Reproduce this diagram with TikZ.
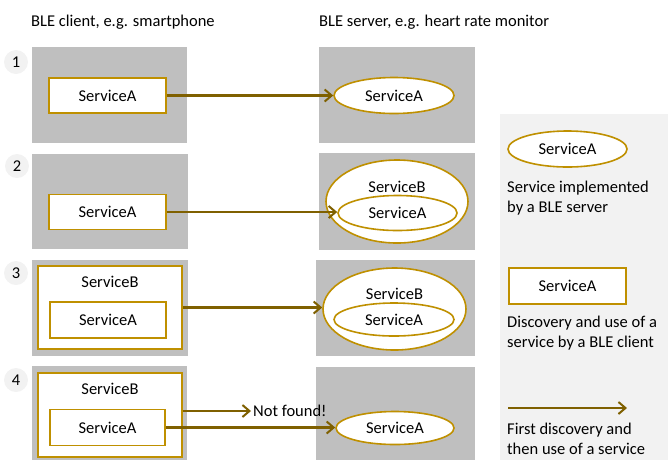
\documentclass[tikz,border=0pt]{standalone}
\usepackage{fontspec}
\setmainfont{Carlito}
\usetikzlibrary{shapes.geometric,arrows.meta}
\definecolor{boxgray}{HTML}{BFBFBF}
\definecolor{panelgray}{HTML}{F2F2F2}
\definecolor{gold}{HTML}{BF9000}
\definecolor{arrowbrown}{HTML}{7F6000}
\tikzset{
  every node/.style={font=\fontsize{16.5}{20}\selectfont},
  graybox/.style={fill=boxgray, draw=none, inner sep=0pt, rectangle},
  clientsvc/.style={draw=gold, line width=1.6pt, fill=white, rectangle, inner sep=0pt},
  serversvc/.style={draw=gold, line width=1.6pt, fill=white, ellipse, inner sep=0pt},
  numcirc/.style={circle, fill=panelgray, minimum size=24pt, inner sep=0pt},
  flow/.style={draw=arrowbrown, line width=2.4pt, -{Straight Barb[length=7pt,width=12pt,line width=2pt]}},
  plain/.style={inner sep=0pt},
}
\begin{document}
\begin{tikzpicture}[x=1pt,y=-1pt]
\useasboundingbox (0,0) rectangle (668,459);
% legend panel
\node[fill=panelgray, inner sep=0pt, minimum width=170pt, minimum height=350pt, anchor=north west] (panel) at (500,114) {};
% titles
\node[plain, anchor=west] (tclient) at (31,22) {BLE client, e.g. smartphone};
\node[plain, anchor=west] (tserver) at (319,22) {BLE server, e.g. heart rate monitor};
% numbers
\node[numcirc] (n1) at (16,62) {1};
\node[numcirc] (n2) at (17,166) {2};
\node[numcirc] (n3) at (16,273) {3};
\node[numcirc] (n4) at (16,380) {4};
% row 1
\node[graybox, minimum width=155pt, minimum height=96pt] (L1) at (109.5,95) {};
\node[graybox, minimum width=156pt, minimum height=96pt] (R1) at (397,95) {};
\node[clientsvc, minimum width=117pt, minimum height=35pt] (A1) at (107.5,95.5) {ServiceA};
\node[serversvc, minimum width=120pt, minimum height=36pt] (E1) at (394,95.5) {ServiceA};
\draw[flow] (A1.east) -- (A1.east -| E1.west);
% row 2
\node[graybox, minimum width=156pt, minimum height=95pt] (L2) at (110,201.5) {};
\node[graybox, minimum width=156pt, minimum height=97pt] (R2) at (397,201.5) {};
\node[clientsvc, minimum width=117pt, minimum height=35pt] (A2) at (107.5,212) {ServiceA};
\node[serversvc, minimum width=142pt, minimum height=83pt] (E2B) at (397,201.5) {};
\node[plain] (E2Bt) at (397,187) {ServiceB};
\node[serversvc, minimum width=119pt, minimum height=35pt] (E2A) at (397.5,213) {ServiceA};
\draw[flow] (A2.east) -- (A2.east -| E2A.west);
% row 3
\node[graybox, minimum width=156pt, minimum height=96pt] (L3) at (110,308) {};
\node[graybox, minimum width=159pt, minimum height=96pt] (R3) at (395.5,308) {};
\node[clientsvc, minimum width=144pt, minimum height=83pt] (B3) at (110,307.5) {};
\node[plain] (B3t) at (110,282) {ServiceB};
\node[clientsvc, minimum width=116pt, minimum height=36pt] (A3) at (108,320) {ServiceA};
\node[serversvc, minimum width=143pt, minimum height=82pt] (E3B) at (394.5,309) {};
\node[plain] (E3Bt) at (394.5,294) {ServiceB};
\node[serversvc, minimum width=120pt, minimum height=33pt] (E3A) at (394,319.5) {ServiceA};
\draw[flow] (B3.east) -- (B3.east -| E3B.west);
% row 4
\node[graybox, minimum width=155pt, minimum height=100pt, anchor=north west] (L4) at (32,366) {};
\node[graybox, minimum width=159pt, minimum height=100pt, anchor=north west] (R4) at (316,367) {};
\node[clientsvc, minimum width=144pt, minimum height=84pt] (B4) at (110,415) {};
\node[plain] (B4t) at (110,389) {ServiceB};
\node[clientsvc, minimum width=115pt, minimum height=36pt] (A4) at (107.5,427.5) {ServiceA};
\node[inner sep=2pt, anchor=west] (NF) at (251,411) {Not found!};
\node[serversvc, minimum width=118pt, minimum height=33pt] (E4) at (395,428) {ServiceA};
\draw[flow] (B4.east |- NF.west) -- (NF.west);
\draw[flow] (A4.east) -- (A4.east -| E4.west);
% legend
\node[serversvc, minimum width=119pt, minimum height=36pt] (LE) at (567.5,149) {ServiceA};
\node[plain, anchor=west, align=left] (LEt) at (507,198) {Service implemented\\by a BLE server};
\node[clientsvc, minimum width=117pt, minimum height=36pt] (LR) at (567.5,286) {ServiceA};
\node[plain, anchor=west, align=left] (LRt) at (507,333.5) {Discovery and use of a\\service by a BLE client};
\coordinate (LAs) at (508,408);
\coordinate (LAe) at (627,408);
\draw[flow] (LAs) -- (LAe);
\node[plain, anchor=west, align=left] (LAt) at (507,438.5) {First discovery and\\then use of a service};
\end{tikzpicture}
\end{document}
